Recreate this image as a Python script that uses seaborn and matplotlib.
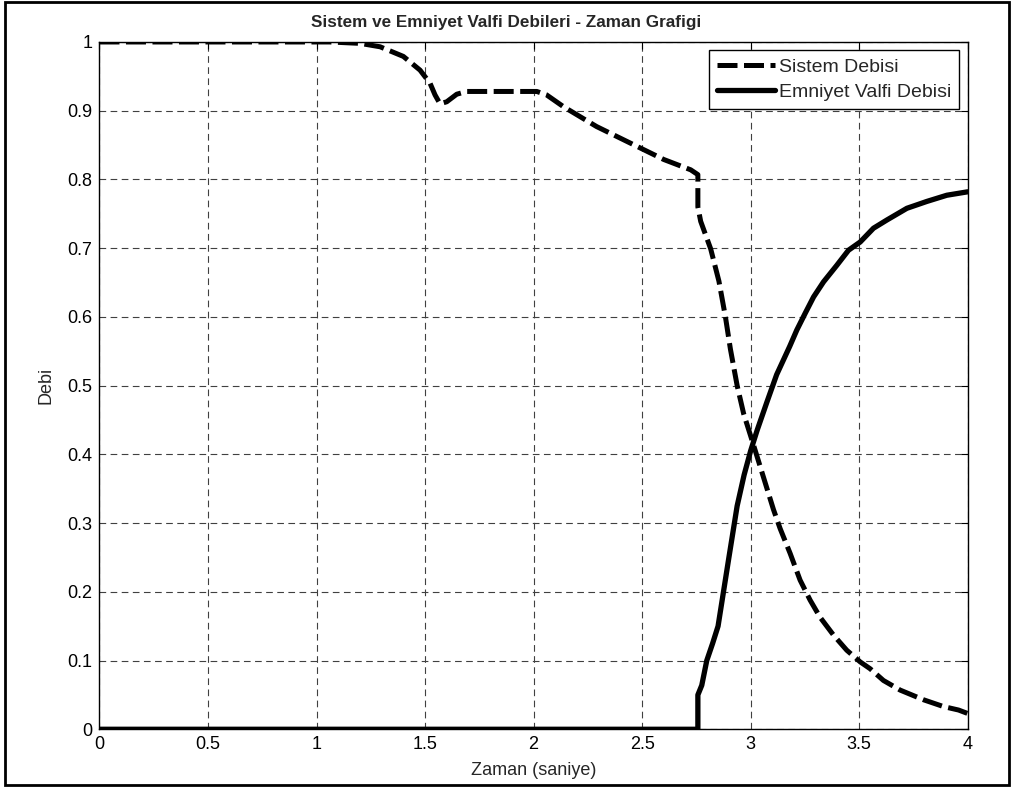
import numpy as np
import pandas as pd
import seaborn as sns
import matplotlib.pyplot as plt
from matplotlib.patches import Rectangle

# Sistem Debisi (dashed)
sistem_t = [0.0, 1.06, 1.2, 1.293, 1.40, 1.477, 1.523, 1.546, 1.569, 1.60, 1.646, 1.692,
            2.015, 2.06, 2.137, 2.29, 2.445, 2.60, 2.724, 2.757, 2.757, 2.77, 2.816, 2.854,
            2.884, 2.907, 2.938, 2.968, 3.014, 3.06, 3.105, 3.136, 3.182, 3.228, 3.274,
            3.32, 3.382, 3.443, 3.505, 3.551, 3.612, 3.689, 3.796, 3.889, 3.958, 4.0]
sistem_q = [1.0, 1.0, 0.998, 0.993, 0.979, 0.959, 0.94, 0.923, 0.910, 0.913, 0.924, 0.928,
            0.928, 0.923, 0.906, 0.877, 0.853, 0.829, 0.814, 0.807, 0.760, 0.739, 0.699, 0.652,
            0.600, 0.553, 0.500, 0.459, 0.413, 0.366, 0.320, 0.292, 0.256, 0.217, 0.188,
            0.163, 0.137, 0.115, 0.098, 0.088, 0.071, 0.057, 0.043, 0.033, 0.028, 0.023]

# Emniyet Valfi Debisi (solid)
valf_t = [0.0, 2.757, 2.757, 2.775, 2.798, 2.825, 2.85, 2.875, 2.90, 2.938, 2.97, 3.0,
          3.03, 3.075, 3.12, 3.18, 3.213, 3.251, 3.29, 3.336, 3.397, 3.451, 3.505, 3.566,
          3.628, 3.72, 3.812, 3.904, 4.0]
valf_q = [0.0, 0.0, 0.05, 0.064, 0.10, 0.125, 0.15, 0.20, 0.25, 0.325, 0.37, 0.405,
          0.435, 0.476, 0.516, 0.557, 0.581, 0.605, 0.629, 0.651, 0.675, 0.697, 0.709, 0.729,
          0.741, 0.758, 0.768, 0.777, 0.782]

x_ticks = [0, 0.5, 1, 1.5, 2, 2.5, 3, 3.5, 4]
x_labels = ["0", "0.5", "1", "1.5", "2", "2.5", "3", "3.5", "4"]
y_ticks = [0, 0.1, 0.2, 0.3, 0.4, 0.5, 0.6, 0.7, 0.8, 0.9, 1]
y_labels = ["0", "0.1", "0.2", "0.3", "0.4", "0.5", "0.6", "0.7", "0.8", "0.9", "1"]

sns.set_style("white")
plt.rcParams['font.family'] = ['Liberation Sans', 'DejaVu Sans']

fig = plt.figure(figsize=(10.14, 7.89), dpi=100)
ax = fig.add_axes([0.0981, 0.0757, 0.8562, 0.8711])

df_s = pd.DataFrame({"t": sistem_t, "q": sistem_q})
df_v = pd.DataFrame({"t": valf_t, "q": valf_q})

sns.lineplot(data=df_s, x="t", y="q", ax=ax, estimator=None, sort=False,
             color="black", linewidth=3.6, label="Sistem Debisi", zorder=3)
sns.lineplot(data=df_v, x="t", y="q", ax=ax, estimator=None, sort=False,
             color="black", linewidth=3.8, label="Emniyet Valfi Debisi", zorder=3)
ax.lines[0].set_dashes([4.0, 1.3])

ax.set_xlim(0, 4)
ax.set_ylim(0, 1)
ax.set_xticks(x_ticks)
ax.set_xticklabels(x_labels)
ax.set_yticks(y_ticks)
ax.set_yticklabels(y_labels)
ax.tick_params(direction="in", length=5, width=0.8, top=True, right=True,
               labelsize=13, colors="black", pad=5)
ax.grid(True, color="0.25", linestyle=(0, (6, 4)), linewidth=0.8)
for sp in ax.spines.values():
    sp.set_color("black")
    sp.set_linewidth(1.0)

ax.set_xlabel("Zaman (saniye)", fontsize=13, labelpad=6)
ax.set_ylabel("Debi", fontsize=13, labelpad=9)
ax.set_title("Sistem ve Emniyet Valfi Debileri - Zaman Grafigi",
             fontsize=12.3, fontweight="bold", pad=11, x=0.468)

leg = ax.legend(loc="upper right", bbox_to_anchor=(0.9905, 0.988), borderaxespad=0,
                fontsize=14, handlelength=3.0, fancybox=False, framealpha=1,
                edgecolor="black", borderpad=0.4, labelspacing=0.4, handletextpad=0.2)
leg.get_frame().set_linewidth(1.0)
leg.get_lines()[0].set_dashes([4.0, 1.3])

# outer border of the figure
fig.patches.append(Rectangle((0.005, 0.005), 0.99, 0.992, transform=fig.transFigure,
                             fill=False, edgecolor="black", linewidth=2))

fig.savefig("out.png", dpi=100)
